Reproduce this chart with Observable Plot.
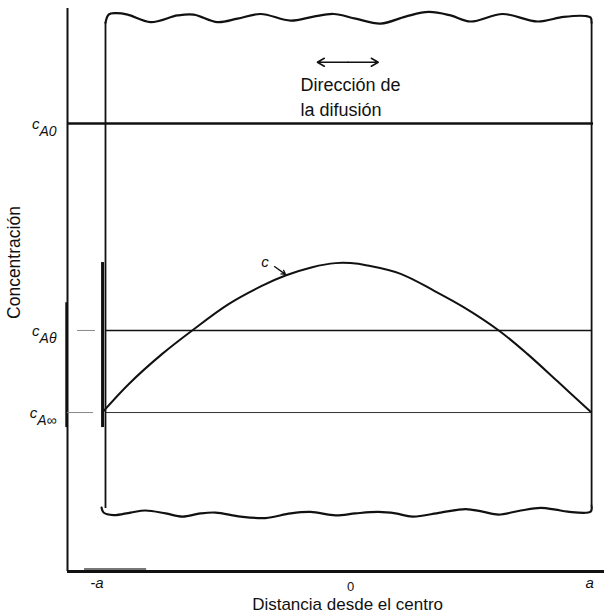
<!DOCTYPE html>
<html><head><meta charset="utf-8">
<script src="https://cdn.jsdelivr.net/npm/d3@7"></script>
<script src="https://cdn.jsdelivr.net/npm/@observablehq/plot@0.6"></script>
<style>body{margin:0;background:#fff}</style>
</head><body><div id="chart"></div>
<script>
// Concentration profile across the slab (x in units of a, y: c_A∞ = 0, c_A0 = 1)
const curveX = [-1.0, -0.896, -0.759, -0.636, -0.485, -0.348, -0.253, -0.143, -0.047, 0.014, 0.083, 0.220, 0.356, 0.480, 0.623, 0.740, 0.864, 1.0];
const curveY = [0.005, 0.099, 0.203, 0.284, 0.376, 0.439, 0.474, 0.503, 0.517, 0.517, 0.509, 0.480, 0.422, 0.364, 0.284, 0.203, 0.108, 0.003];

// Wavy (broken) top and bottom edges of the slab
const topWaveX = [-0.992, -0.979, -0.951, -0.901, -0.807, -0.696, -0.630, -0.532, -0.450, -0.355, -0.232, -0.138, -0.055, 0.035, 0.138, 0.240, 0.335, 0.425, 0.507, 0.639, 0.782, 0.889, 0.979, 1.000, 1.004];
const topWaveY = [1.349, 1.377, 1.382, 1.377, 1.351, 1.374, 1.377, 1.351, 1.363, 1.379, 1.356, 1.370, 1.379, 1.363, 1.346, 1.370, 1.386, 1.374, 1.353, 1.379, 1.353, 1.369, 1.372, 1.367, 1.349];
const bottomWaveX = [-1.008, -1.000, -0.959, -0.889, -0.828, -0.745, -0.676, -0.602, -0.540, -0.437, -0.335, -0.232, -0.150, -0.047, 0.035, 0.129, 0.199, 0.269, 0.384, 0.487, 0.556, 0.622, 0.713, 0.795, 0.856, 0.906, 1.000, 1.004];
const bottomWaveY = [-0.329, -0.346, -0.355, -0.346, -0.339, -0.349, -0.360, -0.349, -0.346, -0.360, -0.365, -0.349, -0.344, -0.356, -0.349, -0.344, -0.349, -0.360, -0.346, -0.334, -0.343, -0.353, -0.339, -0.330, -0.336, -0.343, -0.343, -0.322];

// Slab side edges
const slabLeft = -0.992, slabRight = 1.004;
const slabTop = 1.349, slabBottomLeft = -0.332, slabBottomRight = -0.322;

// Concentration levels
const levelNames = ["c_A0", "c_A\u03B8", "c_A\u221E"];
const levelValues = [1, 0.284, 0];

// X tick labels
const xTickLabels = ["-a", "0", "a"];
const xTickValues = [-1.027, 0.014, 0.996];

// Axis extents
const xMin = -1.148, xMax = 1.057, yMin = -0.55, yMax = 1.398;

const curve = curveX.map((x, i) => ({x, y: curveY[i]}));
const topWave = topWaveX.map((x, i) => ({x, y: topWaveY[i]}));
const bottomWave = bottomWaveX.map((x, i) => ({x, y: bottomWaveY[i]}));
const levels = levelNames.map((name, i) => ({name, value: levelValues[i]}));
const ticks = xTickLabels.map((label, i) => ({label, x: xTickValues[i]}));

const ink = "#111";
const svg = Plot.plot({
  width: 604, height: 616,
  marginLeft: 67, marginRight: 0, marginTop: 8, marginBottom: 45,
  x: {domain: [xMin, xMax], axis: null},
  y: {domain: [yMin, yMax], axis: null},
  style: {background: "white", fontFamily: "'Liberation Sans', Arial, sans-serif"},
  marks: [
    // axes
    Plot.ruleX([xMin], {y1: yMin, y2: yMax, stroke: ink, strokeWidth: 2}),
    Plot.ruleY([yMin], {x1: xMin, x2: xMax, stroke: ink, strokeWidth: 3}),
    // scan thickening
    Plot.ruleX([-1.152], {y1: -0.052, y2: 0.38, stroke: ink, strokeWidth: 2.5}),
    Plot.ruleX([-1.004], {y1: -0.052, y2: 0.519, stroke: ink, strokeWidth: 3}),
    Plot.ruleY([-0.541], {x1: -1.078, x2: -0.823, stroke: "#777", strokeWidth: 2}),
    // level lines
    Plot.ruleY([levelValues[0]], {x1: xMin, x2: 1.012, stroke: ink, strokeWidth: 2.4}),
    Plot.ruleY([levelValues[1]], {x1: slabLeft, x2: slabRight, stroke: ink, strokeWidth: 1.4}),
    Plot.ruleY([levelValues[1]], {x1: -1.107, x2: -1.033, stroke: "#888", strokeWidth: 1}),
    Plot.ruleY([levelValues[2]], {x1: slabLeft, x2: slabRight, stroke: "#333", strokeWidth: 1}),
    Plot.ruleY([levelValues[2]], {x1: xMin, x2: -1.041, stroke: "#888", strokeWidth: 1}),
    // slab
    Plot.ruleX([slabLeft], {y1: slabBottomLeft, y2: slabTop, stroke: ink, strokeWidth: 1.8}),
    Plot.ruleX([slabRight], {y1: slabBottomRight, y2: slabTop, stroke: ink, strokeWidth: 1.8}),
    Plot.line(topWave, {x: "x", y: "y", curve: "catmull-rom", stroke: ink, strokeWidth: 2.2}),
    Plot.line(bottomWave, {x: "x", y: "y", curve: "catmull-rom", stroke: ink, strokeWidth: 2.2}),
    // profile
    Plot.line(curve, {x: "x", y: "y", curve: "catmull-rom", stroke: ink, strokeWidth: 2}),
    // c label and its arrow
    Plot.arrow([{x1: -0.298, y1: 0.505, x2: -0.253, y2: 0.478}], {x1: "x1", y1: "y1", x2: "x2", y2: "y2", stroke: ink, strokeWidth: 1.3, headLength: 7, bend: 0}),
    Plot.text(["c"], {x: -0.337, y: 0.519, text: d => d, fontSize: 15, fontStyle: "italic", fill: ink}),
    // diffusion direction double arrow
    Plot.arrow([{x1: 0.003, x2: -0.122}, {x1: 0.003, x2: 0.128}], {x1: "x1", x2: "x2", y1: 1.212, y2: 1.212, stroke: ink, strokeWidth: 1.5, headLength: 8, bend: 0}),
    Plot.text(["Dirección de\nla difusión"], {x: -0.191, y: 1.176, text: d => d, textAnchor: "start", lineAnchor: "top", lineHeight: 1.4, fontSize: 18, fill: ink}),
    // level labels
    Plot.text(levels, {x: -1.193, y: "value", text: "name", textAnchor: "end", lineAnchor: "bottom", dy: 5.5, fontSize: 15, fontStyle: "italic", fill: ink}),
    // x tick labels
    Plot.text(ticks.filter(d => d.label !== "0"), {x: "x", y: -0.606, text: "label", lineAnchor: "bottom", fontSize: 15, fontStyle: "italic", fill: ink}),
    Plot.text(ticks.filter(d => d.label === "0"), {x: "x", y: -0.616, text: "label", lineAnchor: "bottom", fontSize: 13, fill: ink}),
    // axis titles
    Plot.text(["Distancia desde el centro"], {x: 0.002, y: -0.682, text: d => d, lineAnchor: "bottom", fontSize: 17, fill: ink}),
    Plot.text(["Concentración"], {x: -1.368, y: 0.519, text: d => d, rotate: -90, fontSize: 17.5, fill: ink})
  ]
});

// subscripts for level labels
const ns = "http://www.w3.org/2000/svg";
svg.querySelectorAll("text").forEach(t => {
  const s = t.textContent;
  if (s.includes("_")) {
    const [b, sub] = s.split("_");
    t.textContent = "";
    const t1 = document.createElementNS(ns, "tspan");
    t1.textContent = b;
    const t2 = document.createElementNS(ns, "tspan");
    t2.textContent = sub;
    t2.setAttribute("dy", "7");
    t2.setAttribute("font-size", "14");
    t.append(t1, t2);
  }
});
document.getElementById("chart").append(svg);
</script>
</body></html>
